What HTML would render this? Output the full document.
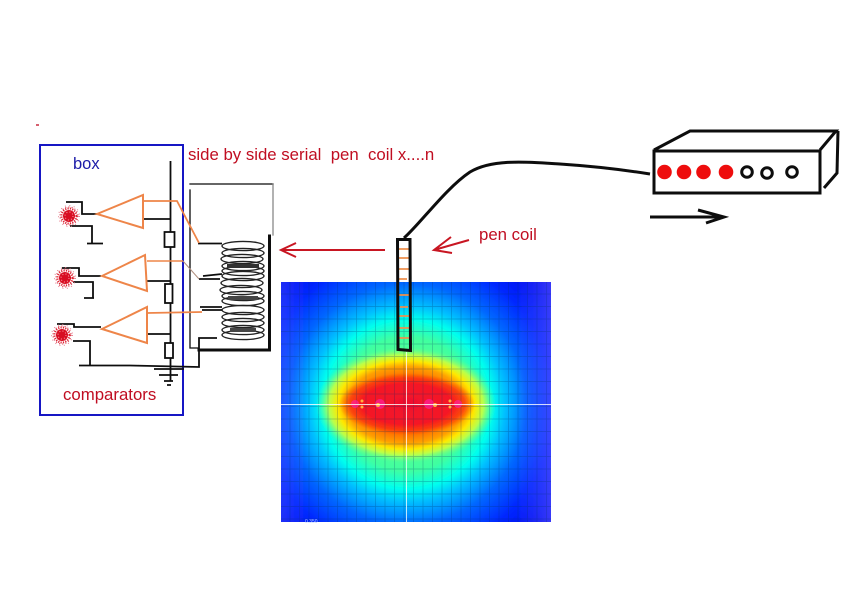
<!DOCTYPE html>
<html><head><meta charset="utf-8">
<style>
html,body{margin:0;padding:0;background:#fff;width:849px;height:600px;overflow:hidden}
svg{display:block}
text{font-family:"Liberation Sans",sans-serif}
</style></head>
<body>
<svg width="849" height="600" viewBox="0 0 849 600" xmlns="http://www.w3.org/2000/svg">
<defs>
<radialGradient id="base" gradientUnits="userSpaceOnUse" cx="407" cy="404" r="185">
<stop offset="0" stop-color="#80ff70"/>
<stop offset=".36" stop-color="#40ffa0"/>
<stop offset=".46" stop-color="#00ffee"/>
<stop offset=".53" stop-color="#00c0ff"/>
<stop offset=".65" stop-color="#0068ff"/>
<stop offset=".8" stop-color="#0028ff"/>
<stop offset="1" stop-color="#0000e8"/>
</radialGradient>
<radialGradient id="yel">
<stop offset="0" stop-color="#ff5000"/>
<stop offset=".45" stop-color="#ff6000"/>
<stop offset=".66" stop-color="#ffa000"/>
<stop offset=".76" stop-color="#ffe800"/>
<stop offset=".86" stop-color="#c8ff40" stop-opacity=".9"/>
<stop offset="1" stop-color="#60ff90" stop-opacity="0"/>
</radialGradient>
<radialGradient id="red">
<stop offset="0" stop-color="#f01030"/>
<stop offset=".65" stop-color="#f51525"/>
<stop offset=".85" stop-color="#fa3010" stop-opacity=".75"/>
<stop offset="1" stop-color="#ff5000" stop-opacity="0"/>
</radialGradient>
<linearGradient id="edgeL" x1="0" x2="1" y1="0" y2="0">
<stop offset="0" stop-color="#4050ff" stop-opacity=".5"/>
<stop offset="1" stop-color="#4050ff" stop-opacity="0"/>
</linearGradient>
<linearGradient id="edgeR" x1="1" x2="0" y1="0" y2="0">
<stop offset="0" stop-color="#5050ff" stop-opacity=".7"/>
<stop offset="1" stop-color="#4050ff" stop-opacity="0"/>
</linearGradient>
<pattern id="grid" patternUnits="userSpaceOnUse" x="281" y="282" width="9.5" height="12.5">
<path d="M9 0V12.5M0 12H9.5" stroke="#003060" stroke-width=".7" fill="none" opacity=".3"/>
</pattern>
<g id="blob">
<circle r="6" fill="#d81020"/>
<circle r="7.5" fill="none" stroke="#e02030" stroke-width="2" stroke-dasharray="1.2 1.2"/>
<circle r="9" fill="none" stroke="#d84050" stroke-width="1.2" stroke-dasharray="1 2.2"/>
<circle r="10.5" fill="none" stroke="#e88090" stroke-width="1" stroke-dasharray="1 3.5"/>
<circle r="4" fill="none" stroke="#f8a0a8" stroke-width="1" stroke-dasharray="1 2.2"/>
</g>
<ellipse id="t" rx="21" ry="4.6" fill="none" stroke="#222" stroke-width="1.4"/>
<filter id="soft" x="-5%" y="-5%" width="110%" height="110%"><feGaussianBlur stdDeviation=".35"/></filter>
</defs>

<g filter="url(#soft)">
<!-- heat map -->
<rect x="281" y="282" width="270" height="240" fill="url(#base)"/>
<rect x="281" y="282" width="28" height="240" fill="url(#edgeL)"/>
<rect x="515" y="282" width="36" height="240" fill="url(#edgeR)"/>
<ellipse cx="406" cy="405" rx="90" ry="58" fill="url(#yel)"/>
<ellipse cx="407" cy="404" rx="68" ry="31" fill="url(#red)"/>
<rect x="281" y="282" width="270" height="240" fill="url(#grid)"/>
<g fill="#ff20a0" opacity=".7">
<circle cx="355" cy="404" r="4"/><circle cx="380" cy="404" r="5"/><circle cx="429" cy="404" r="5"/><circle cx="458" cy="404" r="4"/>
</g>
<g fill="#ffb040">
<circle cx="362" cy="401" r="1.5"/><circle cx="362" cy="407" r="1.5"/><circle cx="378" cy="405" r="2"/><circle cx="435" cy="405" r="2"/><circle cx="450" cy="401" r="1.5"/><circle cx="450" cy="407" r="1.5"/>
</g>
<path d="M281 404.500H551" stroke="#fff" stroke-width="1" opacity=".8"/>
<path d="M406.500 352V522" stroke="#fff" stroke-width="1" opacity=".75"/>
<text x="305" y="523" font-size="5" fill="#b0c8ff">0.350</text>

<!-- red tick -->
<path d="M36 125H39" stroke="#c01020" stroke-width="1.300"/>

<!-- blue box -->
<rect x="40" y="145" width="143" height="270" fill="none" stroke="#1212c4" stroke-width="2"/>

<!-- coil enclosure -->
<g fill="none" stroke="#111" stroke-linecap="square">
<path d="M190 190V348H199" stroke-width="1.300"/>
<path d="M190 184H273" stroke-width="1.300"/>
<path d="M273 184V235" stroke="#888" stroke-width="1.300"/>
<path d="M269.500 236V350H199" stroke-width="3"/>
</g>

<!-- coil -->
<use href="#t" x="243" y="246"/><use href="#t" x="243" y="253"/><use href="#t" x="242" y="259"/>
<use href="#t" x="243" y="266"/><use href="#t" x="243" y="271"/><use href="#t" x="243" y="276"/>
<use href="#t" x="242" y="283"/><use href="#t" x="241" y="290"/><use href="#t" x="243" y="296"/>
<use href="#t" x="243" y="301"/><use href="#t" x="243" y="310"/><use href="#t" x="243" y="317"/>
<use href="#t" x="243" y="323"/><use href="#t" x="243" y="330"/><use href="#t" x="243" y="335"/>
<rect x="227" y="264" width="32" height="4" fill="#333"/>
<rect x="228" y="296" width="30" height="4" fill="#444"/>
<rect x="230" y="328" width="26" height="4" fill="#444"/>

<!-- black circuit -->
<g fill="none" stroke="#111" stroke-width="1.800">
<path d="M170.500 161V381"/>
<rect x="164.500" y="232" width="10" height="15" fill="#fff"/>
<rect x="165" y="284" width="7.500" height="19" fill="#fff"/>
<rect x="165" y="343" width="8" height="15" fill="#fff"/>
<path d="M143 219H170M147 281H170M148 334H170"/>
<path d="M66 202H82V214H97"/>
<path d="M70 226H92V243M87 243.500H103"/>
<path d="M62 268H79V276H101"/>
<path d="M73 282H93V298M84 298H94"/>
<path d="M57 324H74V327H101"/>
<path d="M73 341H90V365"/>
<path d="M79 365.500H130L199 367V338H217"/>
<path d="M198 243.500H222"/>
<path d="M199 279H220M203 276L222 274"/>
<path d="M200 307H222M202 310H222"/>
<path d="M154 369H184M159 375H178M164 381H173M167 385H171"/>
</g>

<!-- detectors -->
<use href="#blob" x="69" y="216"/>
<use href="#blob" x="65" y="278"/>
<use href="#blob" x="62" y="335"/>

<!-- comparators -->
<g fill="none" stroke="#ee8548" stroke-width="2">
<path d="M97 214L143 195V228Z"/>
<path d="M102 276L145 255L147 291Z"/>
<path d="M102 329L147 307V343Z"/>
<path d="M143 201H177L199 243" stroke-width="1.800"/>
<path d="M147 261H183" stroke-width="1.500"/>
<path d="M183 261L199 279" stroke="#b09080" stroke-width="1"/>
<path d="M147 313L202 312" stroke-width="1.800"/>
</g>

<!-- red arrows -->
<g fill="none" stroke="#c81420" stroke-width="2">
<path d="M385 250H283M296 243L281 250L296 257"/>
<path d="M469 240L434 250M451 237L434 250L452 253"/>
</g>

<!-- pen -->
<g stroke="#ee9050" stroke-width="1.800">
<path d="M398 249H410M399 258H410M398 269H409M399 279H407M399 295H410M400 307H408M399 316H410M399 328H409M398 338H410"/>
</g>
<path d="M397.500 239.500H410L410.500 350.500L398 349.500Z" fill="none" stroke="#111" stroke-width="3"/>

<!-- cable -->
<path d="M404 238C420 224 446 188 470 172C490 160 520 161 560 164C590 166 625 170 650 174" fill="none" stroke="#111" stroke-width="3"/>

<!-- device -->
<g fill="none" stroke="#111" stroke-width="3">
<rect x="654" y="151" width="166" height="42" fill="#fff"/>
<path d="M654 150L690 131H836L820 150"/>
<path d="M838 131L837 173L824 188" />
</g>
<g fill="#ee1010">
<circle cx="664.500" cy="172" r="7.300"/><circle cx="684" cy="172" r="7.300"/><circle cx="703.500" cy="172" r="7.300"/><circle cx="726" cy="172" r="7.300"/>
</g>
<g fill="none" stroke="#111" stroke-width="3">
<circle cx="747" cy="172" r="5.300"/><circle cx="767" cy="173" r="5.300"/><circle cx="792" cy="172" r="5.300"/>
<path d="M650 217H724M698 210L724 217L706 223"/>
</g>

<!-- labels -->
<text x="73" y="169" font-size="16.500" fill="#1a1aa8">box</text>
<text x="188" y="160" font-size="16.800" fill="#c01020" xml:space="preserve">side by side serial  pen  coil x....n</text>
<text x="479" y="240" font-size="16.800" fill="#c01020">pen coil</text>
<text x="63" y="400" font-size="16.800" fill="#c01020">comparators</text>
</g>
</svg>
</body></html>
